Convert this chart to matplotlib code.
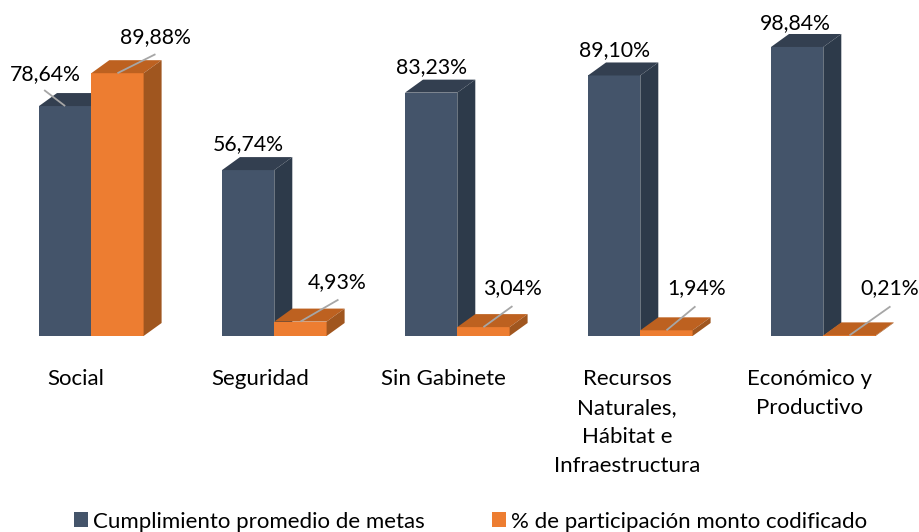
"""
Cumplimiento de metas y participacion por gabinete, barras con efecto 3D.
"""
import matplotlib

matplotlib.use("Agg")
import matplotlib.pyplot as plt
from matplotlib.patches import Polygon, Rectangle

categories = [
    "Social",
    "Seguridad",
    "Sin Gabinete",
    "Recursos\nNaturales,\nHábitat e\nInfraestructura",
    "Económico y\nProductivo",
]
cumplimiento = [78.64, 56.74, 83.23, 89.10, 98.84]
participacion = [89.88, 4.93, 3.04, 1.94, 0.21]
series_names = ["Cumplimiento promedio de metas", "% de participación monto codificado"]

# pixel layout of the reference
PX_PER_CAT = 183.0
PX_PER_PCT = 2.924
BASE_PX = 336.0
X0_PX = 39.0

plt.rcParams["font.family"] = ["Lato", "DejaVu Sans"]

fig = plt.figure(figsize=(9.2, 5.32), dpi=100)
ax = fig.add_axes([0, 0, 1, 1])
ax.set_xlim(-X0_PX / PX_PER_CAT, (920 - X0_PX) / PX_PER_CAT)
ax.set_ylim((BASE_PX - 532) / PX_PER_PCT, BASE_PX / PX_PER_PCT)
ax.axis("off")

bar_w = 52.3 / PX_PER_CAT
depth_x = 18.0 / PX_PER_CAT
depth_y = 13.0 / PX_PER_PCT
dx = 1 / PX_PER_CAT
dy = 1 / PX_PER_PCT


def bar3d(x, value, front, top, side, z):
    ax.add_patch(Rectangle((x, 0), bar_w, value, fc=front, ec="none", zorder=z))
    ax.add_patch(Polygon(
        [(x, value), (x + bar_w, value),
         (x + bar_w + depth_x, value + depth_y), (x + depth_x, value + depth_y)],
        fc=top, ec="none", zorder=z,
    ))
    ax.add_patch(Polygon(
        [(x + bar_w, 0), (x + bar_w + depth_x, depth_y),
         (x + bar_w + depth_x, value + depth_y), (x + bar_w, value)],
        fc=side, ec="none", zorder=z,
    ))


BLUE = ("#44546a", "#333f50", "#2d3a4a")
ORANGE = ("#ed7d31", "#bd6120", "#a0561f")

# (label dx, label dy) from the bar top centre, and leader end, in pixels
blue_label = [(-20, -32), (0, -26), (0, -26), (0, -25), (-2, -24)]
blue_leader = [(-21, -16), None, None, None, None]
orange_label = [(38, -36), (37, -39), (29, -39), (30, -42), (40, -47)]
orange_leader = [(38, -19), (38, -22), (29, -21), (29, -24), (41, -29)]

for i in range(len(categories)):
    x_blue = i
    x_orange = i + bar_w
    bar3d(x_blue, cumplimiento[i], *BLUE, z=2)
    bar3d(x_orange, participacion[i], *ORANGE, z=3)

    for x, val, lab, lead in [
        (x_blue, cumplimiento[i], blue_label[i], blue_leader[i]),
        (x_orange, participacion[i], orange_label[i], orange_leader[i]),
    ]:
        cx = x + bar_w / 2
        if lead is not None:
            ax.plot([cx, cx + lead[0] * dx], [val, val - lead[1] * dy],
                    color="#a6a6a6", lw=1.3, zorder=5, solid_capstyle="butt")
        ax.text(cx + lab[0] * dx, val - lab[1] * dy,
                f"{val:.2f}%".replace(".", ","),
                ha="center", va="center", fontsize=15.3, color="black", zorder=6)

# category labels sit under the bars, left of the pair centre
label_offset = [-16, -14, -14, -13, -14]
for i, cat in enumerate(categories):
    ax.text(i + bar_w + label_offset[i] * dx, (BASE_PX - 369) * dy, cat,
            ha="center", va="top", fontsize=16, color="black",
            linespacing=1.57, multialignment="center")

handles = [
    Rectangle((0, 0), 1, 1, fc=BLUE[0], ec="none"),
    Rectangle((0, 0), 1, 1, fc=ORANGE[0], ec="none"),
]
fig.legend(
    handles, series_names, ncol=2, frameon=False, fontsize=16,
    loc="lower left", bbox_to_anchor=(74 / 920, 0.5 / 532),
    handlelength=0.63, handleheight=0.63, handletextpad=0.23, columnspacing=3.0,
    borderpad=0, borderaxespad=0,
)

fig.savefig("out.png", dpi=100)
